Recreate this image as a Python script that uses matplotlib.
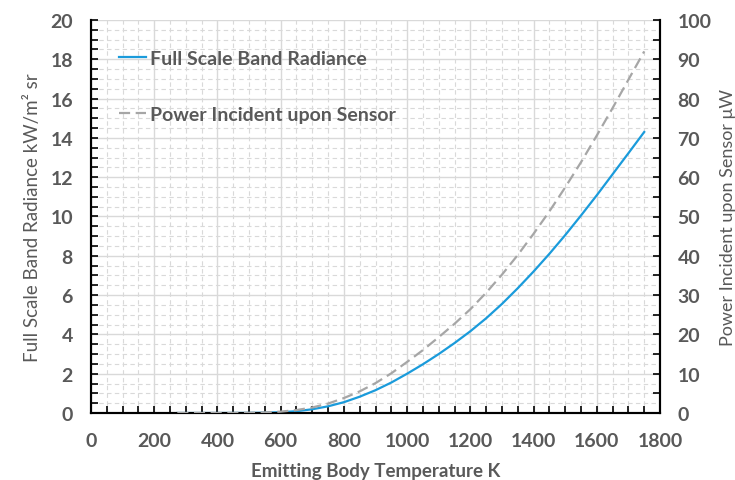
import matplotlib
matplotlib.use("Agg")
import matplotlib.pyplot as plt
from matplotlib.ticker import MultipleLocator

plt.rcParams['font.family'] = ['Lato', 'DejaVu Sans']

temperature_K = [273, 300, 350, 400, 450, 500, 550, 600, 650, 700, 750, 800, 850, 900, 950,
                 1000, 1050, 1100, 1150, 1200, 1250, 1300, 1350, 1400, 1450, 1500, 1550,
                 1600, 1650, 1700, 1750]
band_radiance = [0.0, 0.0, 0.0, 0.0, 0.002, 0.005, 0.015, 0.04, 0.09, 0.19, 0.34, 0.55, 0.83,
                 1.16, 1.55, 2.0, 2.48, 3.0, 3.56, 4.16, 4.82, 5.55, 6.35, 7.2, 8.1, 9.05,
                 10.05, 11.08, 12.15, 13.22, 14.3]
power_uW = [0.0, 0.0, 0.0, 0.0, 0.01, 0.05, 0.15, 0.35, 0.75, 1.4, 2.4, 3.8, 5.5, 7.6, 10.1,
            13.0, 16.0, 19.3, 22.7, 26.4, 30.6, 35.2, 40.2, 45.6, 51.3, 57.4, 63.8,
            70.6, 77.6, 84.8, 92.0]

label_radiance = "Full Scale Band Radiance"
label_power = "Power Incident upon Sensor"
xlabel = "Emitting Body Temperature K"
ylabel_left = "Full Scale Band Radiance kW/m\u00b2 sr"
ylabel_right = "Power Incident upon Sensor \u03bcW"

txt = "#595959"
blue = "#1A9BDB"
gray = "#A6A6A6"
gridc = "#D9D9D9"

fig = plt.figure(figsize=(7.35, 4.81), dpi=100)
ax = fig.add_axes([91/735, 1-414/481, (660-91)/735, (414-21)/481])
ax2 = ax.twinx()

l1, = ax.plot(temperature_K, band_radiance, color=blue, lw=1.6, label=label_radiance, zorder=3)
l2, = ax2.plot(temperature_K, power_uW, color=gray, lw=1.6, label=label_power, zorder=3)
l2.set_dashes((5, 2.5))

ax.set_xlim(0, 1800)
ax.set_ylim(0, 20)
ax2.set_ylim(0, 100)

ax.xaxis.set_major_locator(MultipleLocator(200))
ax.xaxis.set_minor_locator(MultipleLocator(50))
ax.yaxis.set_major_locator(MultipleLocator(2))
ax.yaxis.set_minor_locator(MultipleLocator(0.5))
ax2.yaxis.set_major_locator(MultipleLocator(10))
ax2.yaxis.set_minor_locator(MultipleLocator(5))

ax.grid(which='major', color=gridc, lw=1.0, ls='-')
ax.grid(which='minor', color=gridc, lw=0.8, ls=(0, (4, 3)))
ax.set_axisbelow(True)

for a in (ax, ax2):
    a.spines['top'].set_visible(False)
    for s in ('left', 'bottom', 'right'):
        a.spines[s].set_linewidth(1.5)
        a.spines[s].set_color('black')
    a.tick_params(which='both', direction='in', length=5, width=1.2, color='black',
                  labelsize=14, labelcolor=txt)
ax.tick_params(axis='x', which='both', pad=14)
ax.tick_params(axis='y', which='both', pad=13)
ax2.tick_params(axis='y', which='both', pad=12.5)

for lab in ax.get_xticklabels() + ax.get_yticklabels() + ax2.get_yticklabels():
    lab.set_fontweight('bold')

ax.set_xlabel(xlabel, fontsize=13.5, fontweight='bold', color=txt, labelpad=9)
ax.set_ylabel(ylabel_left, fontsize=13.5, color=txt, labelpad=7)
ax2.set_ylabel(ylabel_right, fontsize=13, color=txt, labelpad=6)

leg = ax2.legend(handles=[l1, l2], loc='upper left', bbox_to_anchor=(0.033, 0.949),
                 frameon=False, prop={'size': 14, 'weight': 'bold'},
                 handlelength=1.35, handletextpad=0.2, labelspacing=2.0, borderpad=0)
for t in leg.get_texts():
    t.set_color(txt)

fig.savefig("out.png", dpi=100)
